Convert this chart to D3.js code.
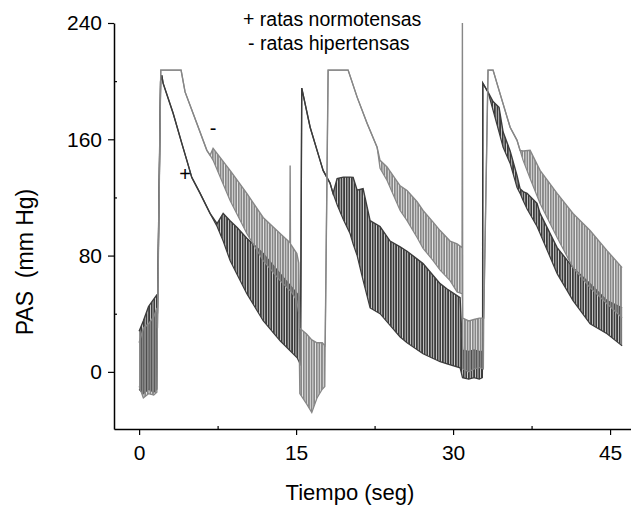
<!DOCTYPE html>
<html>
<head>
<meta charset="utf-8">
<script src="https://cdn.jsdelivr.net/npm/d3@7/dist/d3.min.js"></script>
<style>
  body { margin: 0; background: #fff; }
  svg { display: block; font-family: Arial, "Liberation Sans", sans-serif; }
</style>
</head>
<body>
<div data-viz="wrapper"></div>
<script>
// axis ticks
const xTicks = [0, 15, 30, 45]
const xMinorTicks = [7.5, 22.5, 37.5]
const yTicks = [0, 80, 160, 240]
const yMinorTicks = [40, 120, 200]

const legendLines = ["+ ratas normotensas", "- ratas hipertensas"]
const markerLabels = ["+", "-"]
const markerTime = [4.39, 7.07]
const markerValue = [135.9, 167.6]

// ratas normotensas (dark trace): time, upper and lower envelope of the pulse
const normTime = [0, 0.4, 0.9, 1.4, 1.7, 1.75, 2.05, 2.17, 2.29, 3.25, 4.08, 4.56, 5.03, 5.83, 6.78,
  7.45, 8.03, 8.69, 9.36, 10.29, 11.85, 13.47, 15.10, 15.38, 15.42, 15.54, 16.34, 17.29, 17.58, 18.25,
  18.53, 18.92, 19.5, 20.16, 20.45, 20.83, 21.40, 22.07, 23.02, 23.98, 24.94, 25.60, 27.13, 28.76, 29.43,
  30.67, 30.90, 31.5, 32.0, 32.5, 32.80, 32.82, 32.84, 33.34, 33.82, 34.39, 34.78, 35.45, 36.11, 36.40,
  36.69, 37.07, 38.02, 38.31, 39.94, 41.46, 43.09, 44.71, 46.15]
const normHigh = [28, 35, 45, 50, 53, 40, 200, 204, 198.6, 177.9, 157.2, 145.5, 133.8, 122.8, 109,
  102, 109, 104, 99.3, 92, 81.4, 67.6, 53.8, 50, 10, 195.2, 168.3, 145.5, 138.6, 129.7,
  122.8, 133, 134, 134, 133.8, 125, 126, 104, 100, 90, 86, 83, 74.5, 60.7, 57,
  51, 15, 14, 15, 14, 14, 10, 198.6, 192.4, 186, 182, 165, 152, 135, 126,
  124, 122.8, 115.9, 109, 85.5, 71.7, 60.7, 49, 44.1]
const normLow = [-12, -15, -12, -14, -12, 40, 200, 204, 198.6, 177.9, 157.2, 145.5, 133.8, 122.8, 109,
  100, 90, 76.6, 67, 53.8, 35.2, 21.4, 9.7, 5.5, 10, 195.2, 168.3, 145.5, 138.6, 129.7,
  122.8, 115, 105, 95, 88, 80, 63, 44, 40, 32, 24, 20, 12.4, 7, 5.5,
  2.8, -4, -5, -4, -5, -4, 10, 198.6, 192.4, 180, 165, 154.5, 143.4, 126.9, 122.8,
  117.9, 112, 100, 95.2, 67.6, 49, 33.1, 26.2, 17.9]

// ratas hipertensas (grey trace)
const hiperTime = [0, 0.4, 0.9, 1.4, 1.7, 1.75, 2.07, 4.01, 4.39, 5.51, 6.47, 6.78, 7.07, 8.69, 10.29,
  11.85, 13.47, 14.40, 14.43, 14.46, 15.07, 15.25, 15.35, 16.0, 16.5, 17.0, 17.5, 17.75, 17.78, 18.06,
  19.97, 20.83, 21.78, 22.74, 23.02, 23.69, 24.94, 25.60, 26.56, 27.13, 28.09, 28.76, 29.71, 30.38, 30.86,
  30.89, 30.92, 31.5, 32.0, 32.5, 32.9, 32.93, 33.34, 33.82, 34.30, 35.45, 36.11, 36.40, 36.69, 37.36,
  38.31, 39.94, 41.46, 43.09, 44.71, 46.15]
const hiperHigh = [20, 30, 33, 38, 44, 30, 207.6, 207.6, 192.6, 171, 152.4, 149, 153.8, 138.6, 122.8,
  106.2, 95.2, 89, 142, 88, 81.4, 75, 30, 26, 22, 20, 20, 18, 20, 207.6,
  207.6, 189, 171, 154.5, 145.5, 141, 128, 124.8, 117, 111, 103, 97.2, 90, 88, 85.5,
  240, 37, 35, 36, 37, 37, 37, 207.6, 207.6, 195.9, 168.3, 159.3, 152.4, 152, 152.4,
  138.6, 122.8, 109, 97.2, 83.4, 71.7]
const hiperLow = [-10, -18, -15, -16, -14, 30, 207.6, 207.6, 192.6, 171, 152.4, 149, 145.5, 117.9, 95.2,
  76.6, 62.8, 56, 56, 56, 49, 40, -15, -22, -28, -18, -12, -10, 20, 207.6,
  207.6, 189, 171, 154.5, 140, 131.7, 111, 104, 92.4, 85, 76.6, 70, 62.8, 55, 53.8,
  49, 2, 0, 2, 3, 2, 37, 207.6, 207.6, 195.9, 168.3, 159.3, 152.4, 145.5, 133,
  115.9, 92.4, 71.7, 57.9, 46.9, 37.2]

const dimensions = { width: 631, height: 506, left: 114, top: 23, right: 631, bottom: 429 }

const xScale = d3.scaleLinear().domain([-2.4, 47]).range([dimensions.left, dimensions.right])
const yScale = d3.scaleLinear().domain([-39.3, 240]).range([dimensions.bottom, dimensions.top])

const svg = d3.select("[data-viz='wrapper']").append("svg")
    .attr("width", dimensions.width)
    .attr("height", dimensions.height)

// striped fills stand in for the dense beat-to-beat oscillation
const defs = svg.append("defs")
function stripePattern(id, color, offset) {
  defs.append("pattern")
      .attr("id", id)
      .attr("patternUnits", "userSpaceOnUse")
      .attr("width", 2.6)
      .attr("height", 10)
      .attr("x", offset)
    .append("rect")
      .attr("width", 1.9)
      .attr("height", 10)
      .attr("fill", color)
}
stripePattern("stripe-norm", "#3c3c3c", 0)
stripePattern("stripe-hiper", "#878787", 1.3)

function drawTrace(time, high, low, color, patternId) {
  const rows = time.map((t, i) => ({ t, hi: high[i], lo: low[i] }))
  const area = d3.area()
      .x(d => xScale(d.t))
      .y0(d => yScale(d.lo))
      .y1(d => yScale(d.hi))
  const hiLine = d3.line().x(d => xScale(d.t)).y(d => yScale(d.hi))
  const loLine = d3.line().x(d => xScale(d.t)).y(d => yScale(d.lo))

  svg.append("path")
      .attr("d", area(rows))
      .attr("fill", `url(#${patternId})`)
  svg.append("path")
      .attr("d", hiLine(rows))
      .attr("fill", "none")
      .attr("stroke", color)
      .attr("stroke-width", 1.4)
  svg.append("path")
      .attr("d", loLine(rows))
      .attr("fill", "none")
      .attr("stroke", color)
      .attr("stroke-width", 1.2)
}

drawTrace(normTime, normHigh, normLow, "#3c3c3c", "stripe-norm")
drawTrace(hiperTime, hiperHigh, hiperLow, "#878787", "stripe-hiper")

// axes
svg.append("g")
    .attr("transform", `translate(${dimensions.left},0)`)
    .call(d3.axisLeft(yScale).tickValues(yTicks).tickSize(6).tickSizeOuter(0).tickPadding(6))
svg.append("g")
    .attr("transform", `translate(${dimensions.left},0)`)
    .call(d3.axisLeft(yScale).tickValues(yMinorTicks).tickSize(-3).tickSizeOuter(0).tickFormat(""))
    .call(g => g.select(".domain").remove())

svg.append("g")
    .attr("transform", `translate(0,${dimensions.bottom})`)
    .call(d3.axisBottom(xScale).tickValues(xTicks).tickSize(6).tickSizeOuter(0).tickPadding(10))
svg.append("g")
    .attr("transform", `translate(0,${dimensions.bottom})`)
    .call(d3.axisBottom(xScale).tickValues(xMinorTicks).tickSize(-3).tickSizeOuter(0).tickFormat(""))
    .call(g => g.select(".domain").remove())

svg.selectAll(".domain").attr("stroke", "#000").attr("stroke-width", 1.5)
svg.selectAll(".tick line").attr("stroke", "#000").attr("stroke-width", 1.2)
svg.selectAll(".tick text")
    .attr("fill", "#000")
    .style("font-size", "21px")
    .style("font-family", "Arial, 'Liberation Sans', sans-serif")

// axis titles
svg.append("text")
    .attr("transform", `translate(33,262) rotate(-90)`)
    .attr("text-anchor", "middle")
    .style("font-size", "23px")
    .style("white-space", "pre")
    .text("PAS  (mm Hg)")

svg.append("text")
    .attr("x", 350)
    .attr("y", 500)
    .attr("text-anchor", "middle")
    .style("font-size", "22px")
    .text("Tiempo (seg)")

// legend
svg.selectAll(".legend-line")
  .data(legendLines)
  .join("text")
    .attr("class", "legend-line")
    .attr("x", (d, i) => i === 0 ? 243 : 248)
    .attr("y", (d, i) => 26 + i * 24)
    .style("font-size", "19.5px")
    .text(d => d)

// "+" and "-" markers next to the traces
svg.selectAll(".marker")
  .data(markerLabels)
  .join("text")
    .attr("class", "marker")
    .attr("x", (d, i) => xScale(markerTime[i]))
    .attr("y", (d, i) => yScale(markerValue[i]))
    .attr("text-anchor", "middle")
    .attr("dy", "0.35em")
    .style("font-size", "20px")
    .text(d => d)
</script>
</body>
</html>
